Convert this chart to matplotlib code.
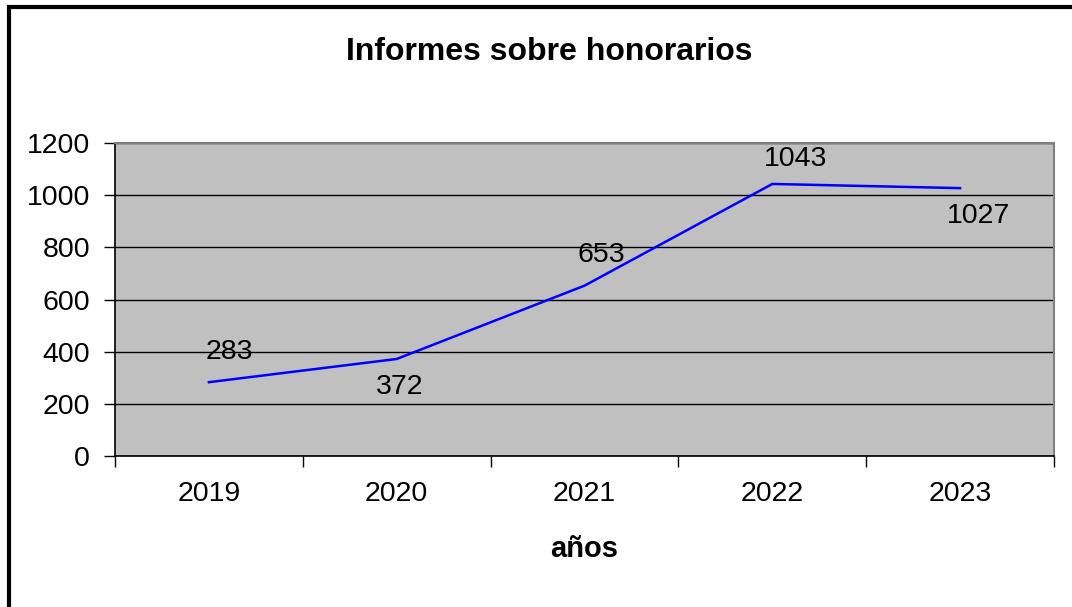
import matplotlib
matplotlib.use("Agg")
import matplotlib.pyplot as plt
from matplotlib.patches import Rectangle

plt.rcParams['font.family'] = ['Liberation Sans', 'DejaVu Sans']

years = ['2019', '2020', '2021', '2022', '2023']
informes = [283, 372, 653, 1043, 1027]

# data label offsets in points (hand placed in the original chart)
lab_dx = [15, 2, 12, 17, 13]
lab_dy = [22, -20, 22, 18, -20]

fig = plt.figure(figsize=(10.72, 6.07), dpi=100)
ax = fig.add_axes([115/1072, 1-456/607, (1054-115)/1072, (456-143)/607])

x = list(range(len(years)))
ax.plot(x, informes, color='#0000ff', linewidth=1.8, zorder=3)

for xi, v, dx, dy in zip(x, informes, lab_dx, lab_dy):
    ax.annotate(str(v), (xi, v), xytext=(dx, dy), textcoords='offset points',
                ha='center', va='center', fontsize=20.5, color='#000000', zorder=4)

ax.set_facecolor('#c0c0c0')
ax.set_xlim(-0.5, len(years)-0.5)
ax.set_ylim(0, 1200)
ax.set_yticks(range(0, 1201, 200))
ax.yaxis.grid(True, color='#000000', linewidth=1.0)
ax.set_axisbelow(True)

ax.set_xticks(x)
ax.set_xticklabels(years)
ax.set_xticks([i - 0.5 for i in range(len(years)+1)], minor=True)
ax.tick_params(axis='x', which='major', length=0, pad=18, labelsize=20.5)
ax.tick_params(axis='x', which='minor', length=8, width=1, color='#000000')
ax.tick_params(axis='y', length=8, width=1, pad=10, labelsize=20.5)

for s in ['top', 'right']:
    ax.spines[s].set_color('#808080')
    ax.spines[s].set_linewidth(1.5)
for s in ['left', 'bottom']:
    ax.spines[s].set_color('#000000')
    ax.spines[s].set_linewidth(1.2)

ax.set_xlabel('años', fontsize=21, fontweight='bold', labelpad=20)
fig.text(549/1072, 1-52/607, 'Informes sobre honorarios', ha='center', va='center',
         fontsize=23, fontweight='bold')

# chart area border
fig.patches.append(Rectangle((9/1072, -0.01), 1.2, 1-7/607 + 0.01, transform=fig.transFigure,
                             fill=False, edgecolor='#000000', linewidth=3))

fig.savefig('out.png', dpi=100)
